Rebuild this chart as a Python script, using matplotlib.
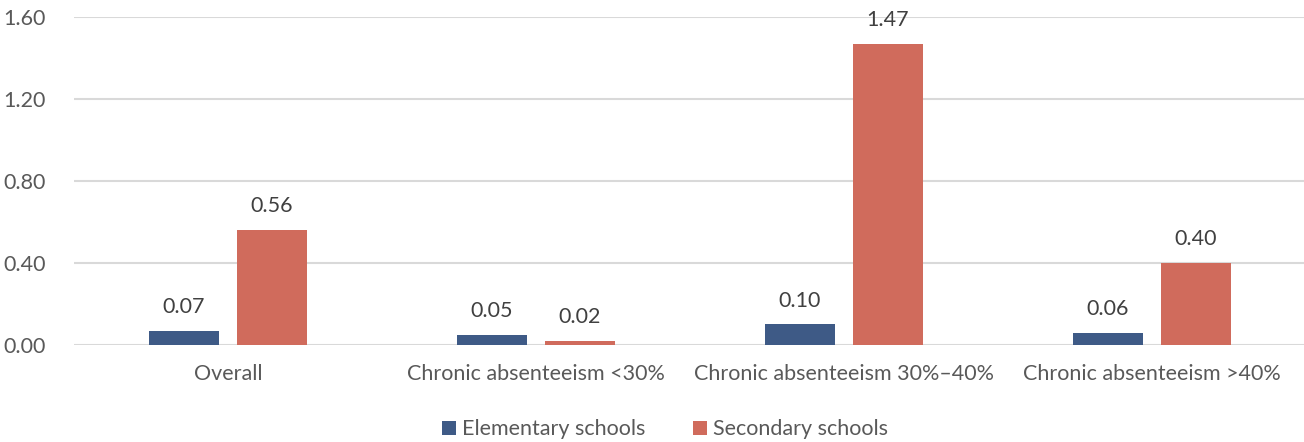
import numpy as np
from matplotlib import pyplot as plt

categories = ['Overall', 'Chronic absenteeism <30%', 'Chronic absenteeism 30%\u201340%', 'Chronic absenteeism >40%']
elementary = [0.07, 0.05, 0.10, 0.06]
secondary = [0.56, 0.02, 1.47, 0.40]
yticks = [0.0, 0.4, 0.8, 1.2, 1.6]

blue = '#3E5A86'
red = '#D06B5C'
txt = '#595959'

plt.rcParams['font.family'] = ['Lato', 'DejaVu Sans']

fig = plt.figure(figsize=(13.04, 4.42), dpi=100)
ax = fig.add_axes([0.0567, 0.2195, 0.9448, 0.742])

x = np.arange(len(categories))
w = 0.228
gap = 0.058
b1 = ax.bar(x - (w + gap) / 2, elementary, w, color=blue, label='Elementary schools')
b2 = ax.bar(x + (w + gap) / 2, secondary, w, color=red, label='Secondary schools')

# value labels above each bar
for bars, vals in ((b1, elementary), (b2, secondary)):
    for b, v in zip(bars, vals):
        ax.annotate('%.2f' % v, (b.get_x() + b.get_width() / 2, v),
                    xytext=(0, 10), textcoords='offset points',
                    ha='center', va='bottom', fontsize=15.5, color='#404040')

ax.set_xlim(-0.5, len(categories) - 0.5)
ax.set_ylim(0, 1.6)
ax.set_yticks(yticks)
ax.set_yticklabels(['%.2f' % t for t in yticks])
ax.set_xticks(x)
ax.set_xticklabels(categories)
ax.tick_params(length=0, labelsize=15.5, colors=txt)
ax.tick_params(axis='x', pad=14)
ax.tick_params(axis='y', pad=20)
ax.grid(axis='y', color='#D9D9D9', linewidth=1.5)
ax.set_axisbelow(True)
for s in ax.spines.values():
    s.set_visible(False)

fig.legend(loc='lower center', bbox_to_anchor=(0.51, -0.038), ncol=2, frameon=False,
           fontsize=15.5, labelcolor=txt, handlelength=0.65, handleheight=0.65,
           handletextpad=0.3, columnspacing=2.2)

fig.savefig('out.png', dpi=100)
